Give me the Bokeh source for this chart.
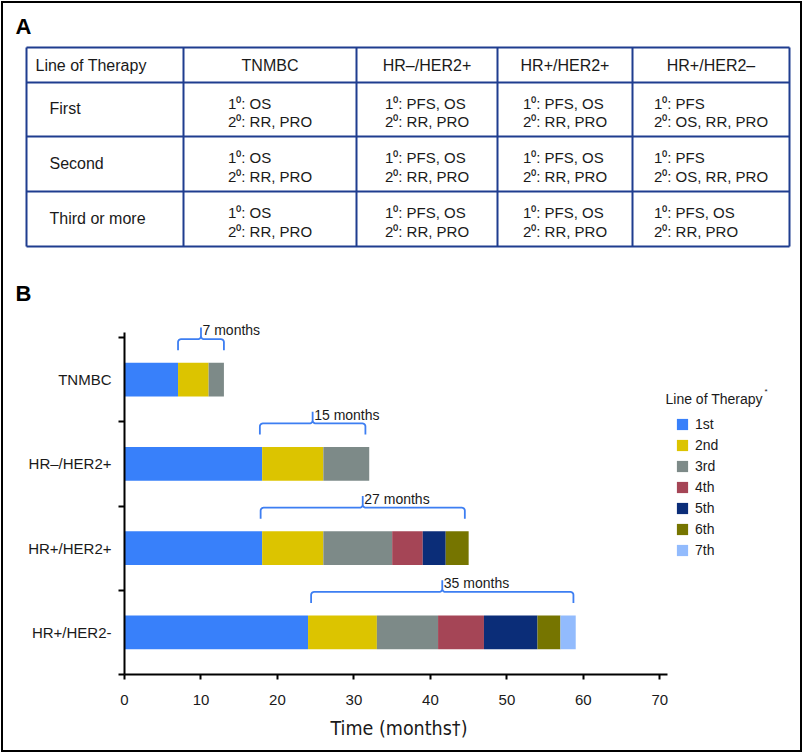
import numpy as np
from bokeh.plotting import figure
from bokeh.layouts import column
from bokeh.models import Range1d, FixedTicker, ColumnDataSource, Label, Title, Plot
from bokeh.core.properties import value
from bokeh.embed import file_html
from bokeh.resources import INLINE

# ---------------- Panel A data (table) ----------------
table_header = ["Line of Therapy", "TNMBC", "HR–/HER2+", "HR+/HER2+", "HR+/HER2–"]
table_rows = ["First", "Second", "Third or more"]
tnmbc_primary = ["1⁰: OS", "1⁰: OS", "1⁰: OS"]
tnmbc_secondary = ["2⁰: RR, PRO", "2⁰: RR, PRO", "2⁰: RR, PRO"]
hrneg_her2pos_primary = ["1⁰: PFS, OS", "1⁰: PFS, OS", "1⁰: PFS, OS"]
hrneg_her2pos_secondary = ["2⁰: RR, PRO", "2⁰: RR, PRO", "2⁰: RR, PRO"]
hrpos_her2pos_primary = ["1⁰: PFS, OS", "1⁰: PFS, OS", "1⁰: PFS, OS"]
hrpos_her2pos_secondary = ["2⁰: RR, PRO", "2⁰: RR, PRO", "2⁰: RR, PRO"]
hrpos_her2neg_primary = ["1⁰: PFS", "1⁰: PFS", "1⁰: PFS, OS"]
hrpos_her2neg_secondary = ["2⁰: OS, RR, PRO", "2⁰: OS, RR, PRO", "2⁰: RR, PRO"]

# ---------------- Panel B data (bars) ----------------
categories = ["TNMBC", "HR–/HER2+", "HR+/HER2+", "HR+/HER2-"]
line_names = ["1st", "2nd", "3rd", "4th", "5th", "6th", "7th"]
line_colors = ["#3880fa", "#dcc400", "#7d8a88", "#a54556", "#0b2d78", "#767500", "#92bbfd"]
first_line = [7, 18, 18, 24]
second_line = [4, 8, 8, 9]
third_line = [2, 6, 9, 8]
fourth_line = [0, 0, 4, 6]
fifth_line = [0, 0, 3, 7]
sixth_line = [0, 0, 3, 3]
seventh_line = [0, 0, 0, 2]
brace_start = [7, 17.7, 17.8, 24.4]
brace_end = [13, 31.5, 44.5, 58.7]
brace_labels = ["7 months", "15 months", "27 months", "35 months"]
x_ticks = [0, 10, 20, 30, 40, 50, 60, 70]

FONT = "Liberation Sans"
NARROW = "Liberation Sans Narrow, DejaVu Sans Condensed, Liberation Sans, sans-serif"
TXT = "#1a1a1a"
BLUE_LINE = "#1f3d8f"
W, H = 803, 753
TOP_H = 310

fa = {"frame_align": False} if "frame_align" in Plot.properties() else {}

# ================= Panel A: table (coordinates = page pixels) =================
top = figure(width=W, height=TOP_H, x_range=Range1d(0, W), y_range=Range1d(TOP_H, 0),
             x_axis_location=None, y_axis_location=None, toolbar_location=None,
             output_backend="svg", min_border=0, outline_line_color=None,
             border_fill_color=None, background_fill_color=None, **fa)
top.xgrid.grid_line_color = None
top.ygrid.grid_line_color = None

col_edges = [26, 183, 356, 497, 632, 789]
row_edges = [47, 82, 136, 191, 246]

top.multi_line(xs=[[x, x] for x in col_edges], ys=[[row_edges[0], row_edges[-1]]] * len(col_edges),
               line_color=BLUE_LINE, line_width=2)
top.multi_line(xs=[[col_edges[0], col_edges[-1]]] * len(row_edges), ys=[[y, y] for y in row_edges],
               line_color=BLUE_LINE, line_width=2)

top.text(x=[15, 15], y=[26, 293], text=["A", "B"], text_font=value(FONT), text_font_style="bold",
         text_font_size="22px", text_baseline="middle", text_color="black")

hx, hy, ht, ha = [], [], [], []
hdr_y = (row_edges[0] + row_edges[1]) / 2
hx.append(col_edges[0] + 9); hy.append(hdr_y); ht.append(table_header[0]); ha.append("left")
for j in range(1, 5):
    hx.append((col_edges[j] + col_edges[j + 1]) / 2); hy.append(hdr_y); ht.append(table_header[j]); ha.append("center")
for i, r in enumerate(table_rows):
    hx.append(col_edges[0] + 23); hy.append((row_edges[i + 1] + row_edges[i + 2]) / 2 - 1); ht.append(r); ha.append("left")
top.text(x=hx, y=hy, text=ht, text_align=ha, text_baseline="middle", text_font=value(FONT),
         text_font_size="16px", text_color=TXT)

cw = {'1': .556, '2': .556, '⁰': .33, ':': .278, ' ': .278, 'O': .778, 'S': .667,
      'R': .722, 'P': .667, 'F': .611, ',': .278}


def tw(s, size):
    return sum(cw.get(c, .556) for c in s) * size


cols_p = [tnmbc_primary, hrneg_her2pos_primary, hrpos_her2pos_primary, hrpos_her2neg_primary]
cols_s = [tnmbc_secondary, hrneg_her2pos_secondary, hrpos_her2pos_secondary, hrpos_her2neg_secondary]
cx, cy, ct = [], [], []
for j in range(4):
    ccenter = (col_edges[j + 1] + col_edges[j + 2]) / 2
    widest = max(tw(s, 15) for s in cols_p[j] + cols_s[j])
    left = ccenter - widest / 2
    for i in range(3):
        rc = (row_edges[i + 1] + row_edges[i + 2]) / 2
        cx += [left, left]
        cy += [rc - 6.5, rc + 12]
        ct += [cols_p[j][i], cols_s[j][i]]
top.text(x=cx, y=cy, text=ct, text_align="left", text_baseline="middle", text_font=value(FONT),
         text_font_size="15px", text_color=TXT)

# ================= Panel B: stacked bars =================
n = len(categories)
ypos = [n - i - 0.5 for i in range(n)]
src = ColumnDataSource(dict(y=ypos, **{"1st": first_line, "2nd": second_line, "3rd": third_line,
                                        "4th": fourth_line, "5th": fifth_line, "6th": sixth_line,
                                        "7th": seventh_line}))

FL, FT, FB = 124, 6, 79          # frame left / top gap / bottom border
FW = W - FL
FH = H - TOP_H - FT - FB
PXX = 543 / 71.0                  # px per month
PXY = 84.25                       # px per category
p = figure(frame_width=FW, frame_height=FH, x_range=Range1d(0, FW / PXX), y_range=Range1d(0, FH / PXY),
           min_border_left=FL, min_border_right=0, min_border_top=FT, min_border_bottom=FB,
           toolbar_location=None, output_backend="svg", outline_line_color=None,
           border_fill_color=None, background_fill_color=None, **fa)
p.xgrid.grid_line_color = None
p.ygrid.grid_line_color = None

p.hbar_stack(line_names, y="y", height=0.4, fill_color=line_colors, line_color=None,
             source=src, legend_label=line_names)

# braces
rx, ry = 3 / PXX, 3 / PXY
bxs, bys, tipx, tipy = [], [], [], []
for s, e, yc in zip(brace_start, brace_end, ypos):
    yh = yc + 0.48
    yend = yc + 0.35
    ytip = yc + 0.62
    xm = (s + e) / 2
    xs, ys = [s], [yend]
    t = np.linspace(np.pi, np.pi / 2, 6)
    xs += list(s + rx + rx * np.cos(t)); ys += list(yh - ry + ry * np.sin(t))
    t = np.linspace(-np.pi / 2, 0, 6)
    xs += list(xm - rx + rx * np.cos(t)); ys += list(yh + ry + ry * np.sin(t))
    xs += [xm, xm]; ys += [ytip, yh + ry]
    t = np.linspace(np.pi, 1.5 * np.pi, 6)
    xs += list(xm + rx + rx * np.cos(t)); ys += list(yh + ry + ry * np.sin(t))
    t = np.linspace(np.pi / 2, 0, 6)
    xs += list(e - rx + rx * np.cos(t)); ys += list(yh - ry + ry * np.sin(t))
    xs += [e]; ys += [yend]
    bxs.append(xs); bys.append(ys)
    tipx.append(xm + 0.2); tipy.append(yc + 0.585)
p.multi_line(xs=bxs, ys=bys, line_color="#3d7ef2", line_width=1.8)
p.text(x=tipx, y=tipy, text=brace_labels, text_font=value(FONT), text_font_size="14px",
       text_baseline="middle", text_align="left", text_color=TXT)

# axes
yax = p.yaxis[0]
yax.ticker = FixedTicker(ticks=ypos, minor_ticks=list(range(n + 1)))
yax.major_label_overrides = {float(yv): c for yv, c in zip(ypos, categories)}
yax.bounds = (0, 4.06)
yax.axis_line_width = 2
yax.axis_line_color = "black"
yax.major_tick_line_color = None
yax.major_tick_out = 0
yax.major_tick_in = 0
yax.minor_tick_out = 6
yax.minor_tick_in = 0
yax.minor_tick_line_width = 2
yax.minor_tick_line_color = "black"
yax.major_label_standoff = 7
yax.major_label_text_font = FONT
yax.major_label_text_font_size = "15px"
yax.major_label_text_color = TXT

xax = p.xaxis[0]
xax.ticker = FixedTicker(ticks=x_ticks)
xax.bounds = (0, 71)
xax.axis_line_width = 2
xax.axis_line_color = "black"
xax.major_tick_out = 5
xax.major_tick_in = 0
xax.major_tick_line_width = 2
xax.minor_tick_line_color = None
xax.major_label_standoff = 15
xax.major_label_text_font = FONT
xax.major_label_text_font_size = "15px"
xax.major_label_text_color = TXT

p.add_layout(Title(text="Time (months†)", align="left", offset=206, standoff=15,
                   text_font=NARROW, text_font_size="19.5px",
                   text_font_style="normal", text_color=TXT), "below")

# legend
lg = p.legend[0]
lg.location = (551, 114)
lg.glyph_width = 14
lg.glyph_height = 14
lg.label_height = 21
lg.spacing = 0
lg.padding = 0
lg.margin = 0
lg.label_standoff = 6
lg.label_text_font = FONT
lg.label_text_font_size = "14px"
lg.label_text_color = TXT
lg.border_line_color = None
lg.background_fill_alpha = 0

p.add_layout(Label(x=541, y=276, x_units="screen", y_units="screen", text="Line of Therapy",
                   text_font=FONT, text_font_size="14px", text_baseline="middle", text_color=TXT))
p.add_layout(Label(x=640, y=283, x_units="screen", y_units="screen", text="*",
                   text_font=FONT, text_font_size="8px", text_baseline="middle", text_color=TXT))

layout = column(top, p, spacing=0, styles={"outline": "2px solid black", "outline-offset": "-3px"})
open("out.html", "w").write(file_html(layout, INLINE))
